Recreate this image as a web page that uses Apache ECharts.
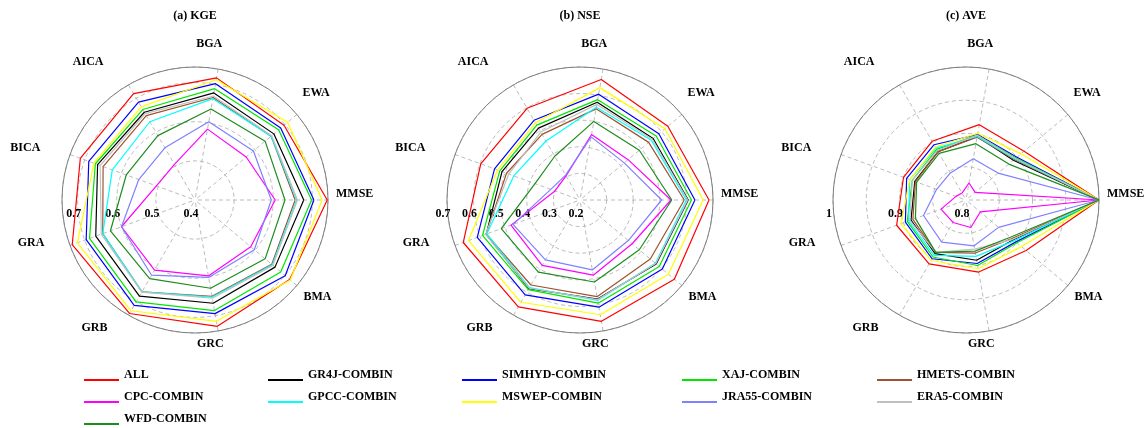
<!DOCTYPE html>
<html>
<head>
<meta charset="utf-8">
<script src="https://cdn.jsdelivr.net/npm/echarts@6/dist/echarts.min.js"></script>
<style>
  html, body { margin: 0; padding: 0; background: #fff; }
  #chart { width: 1144px; height: 428px; }
</style>
</head>
<body>
<div id="chart"></div>
<script>
// Spoke order, counter-clockwise from the right-hand (0°) spoke
const indicators = ['MMSE', 'EWA', 'BGA', 'AICA', 'BICA', 'GRA', 'GRB', 'GRC', 'BMA'];

const seriesNames = ['ALL', 'GR4J-COMBIN', 'SIMHYD-COMBIN', 'XAJ-COMBIN', 'HMETS-COMBIN',
  'CPC-COMBIN', 'GPCC-COMBIN', 'MSWEP-COMBIN', 'JRA55-COMBIN', 'ERA5-COMBIN', 'WFD-COMBIN'];
const seriesColors = ['#ff0000', '#000000', '#0000ff', '#00e600', '#a0522d',
  '#ff00ff', '#00ffff', '#ffff00', '#8080ff', '#c0c0c0', '#1e8c1e'];

const panelTitles = ['(a) KGE', '(b) NSE', '(c) AVE'];

// Radial tick labels per panel
const kgeTicks = ['0.4', '0.5', '0.6', '0.7'];
const nseTicks = ['0.2', '0.3', '0.4', '0.5', '0.6', '0.7'];
const aveTicks = ['0.8', '0.9', '1'];

// Values per series (rows in seriesNames order), columns in indicators order
const kgeValues = [
  [0.738, 0.697, 0.717, 0.714, 0.712, 0.734, 0.735, 0.728, 0.716],
  [0.678, 0.663, 0.678, 0.659, 0.665, 0.670, 0.684, 0.668, 0.667],
  [0.704, 0.686, 0.702, 0.689, 0.689, 0.696, 0.711, 0.695, 0.701],
  [0.698, 0.679, 0.689, 0.667, 0.671, 0.687, 0.701, 0.687, 0.686],
  [0.656, 0.654, 0.666, 0.649, 0.650, 0.651, 0.671, 0.650, 0.656],
  [0.605, 0.571, 0.584, 0.505, 0.505, 0.600, 0.607, 0.597, 0.586],
  [0.660, 0.654, 0.663, 0.631, 0.625, 0.651, 0.671, 0.652, 0.658],
  [0.725, 0.709, 0.712, 0.675, 0.675, 0.720, 0.727, 0.715, 0.718],
  [0.595, 0.595, 0.603, 0.554, 0.553, 0.600, 0.622, 0.601, 0.598],
  [0.662, 0.656, 0.670, 0.655, 0.658, 0.655, 0.672, 0.655, 0.660],
  [0.630, 0.634, 0.636, 0.590, 0.587, 0.630, 0.632, 0.629, 0.634]
];
const nseValues = [
  [0.685, 0.631, 0.660, 0.598, 0.597, 0.667, 0.664, 0.663, 0.663],
  [0.607, 0.559, 0.573, 0.512, 0.512, 0.575, 0.585, 0.578, 0.574],
  [0.632, 0.587, 0.604, 0.546, 0.542, 0.611, 0.612, 0.609, 0.604],
  [0.619, 0.574, 0.583, 0.525, 0.521, 0.590, 0.589, 0.594, 0.589],
  [0.592, 0.537, 0.548, 0.485, 0.494, 0.575, 0.569, 0.569, 0.545],
  [0.542, 0.436, 0.450, 0.305, 0.300, 0.476, 0.484, 0.487, 0.456],
  [0.600, 0.550, 0.554, 0.456, 0.465, 0.573, 0.580, 0.583, 0.570],
  [0.663, 0.617, 0.629, 0.535, 0.530, 0.646, 0.644, 0.638, 0.634],
  [0.507, 0.417, 0.441, 0.308, 0.317, 0.468, 0.460, 0.467, 0.437],
  [0.605, 0.555, 0.565, 0.495, 0.485, 0.578, 0.583, 0.580, 0.572],
  [0.545, 0.491, 0.500, 0.390, 0.380, 0.515, 0.513, 0.513, 0.491]
];
const aveValues = [
  [1.000, 0.914, 0.915, 0.902, 0.900, 0.911, 0.911, 0.910, 0.918],
  [1.000, 0.893, 0.897, 0.884, 0.882, 0.888, 0.893, 0.892, 0.893],
  [1.000, 0.900, 0.900, 0.896, 0.895, 0.897, 0.902, 0.897, 0.898],
  [1.000, 0.898, 0.899, 0.888, 0.886, 0.894, 0.899, 0.900, 0.900],
  [1.000, 0.895, 0.896, 0.884, 0.881, 0.885, 0.891, 0.881, 0.890],
  [1.000, 0.818, 0.826, 0.812, 0.816, 0.840, 0.839, 0.842, 0.828],
  [1.000, 0.896, 0.897, 0.890, 0.890, 0.892, 0.896, 0.886, 0.895],
  [1.000, 0.908, 0.902, 0.892, 0.890, 0.904, 0.905, 0.905, 0.909],
  [1.000, 0.863, 0.863, 0.847, 0.847, 0.868, 0.873, 0.870, 0.864],
  [1.000, 0.897, 0.899, 0.886, 0.886, 0.890, 0.891, 0.875, 0.892],
  [1.000, 0.884, 0.886, 0.881, 0.879, 0.881, 0.891, 0.878, 0.887]
];

// Radial ranges per panel
const panelMin = [0.4, 0.2, 0.8];
const panelMax = [0.74, 0.7, 1.0];
const ringStep = [0.1, 0.1, 0.05];

// Legend columns (indices into seriesNames)
const legendColumns = [[0, 5, 10], [1, 6], [2, 7], [3, 8], [4, 9]];

// ---- layout ----
const FONT = 'Liberation Serif';
const centersX = [195, 580, 966];
const CY = 200;
const R = 133;
const legendLeft = [84, 268, 462, 682, 877];
const STEP = 360 / indicators.length;
// per-spoke name placement: padding [top, right, bottom, left] around each name
const namePadding = [
  [0, 0, 12, 36], [0, 0, 65, 27], [0, 8, 91, 0], [0, 39, 80, 0], [0, 56, 32, 0],
  [14, 52, 0, 0], [60, 35, 0, 0], [67, 6, 0, 0], [45, 0, 0, 28]
];

const panelValues = [kgeValues, nseValues, aveValues];
const panelTicks = [kgeTicks, nseTicks, aveTicks];

const gridDash = { type: [4, 3], color: '#a9a9a9', width: 0.8 };
const boldText = { fontFamily: FONT, fontWeight: 'bold', fontSize: 12, color: '#000' };

const nameRich = {};
indicators.forEach((n, i) => {
  nameRich['n' + i] = Object.assign({ lineHeight: 14, padding: namePadding[i] }, boldText);
});

const title = [], polar = [], angleAxis = [], radiusAxis = [], series = [];

panelTitles.forEach((t, p) => {
  const cx = centersX[p];
  title.push({ text: t, left: cx, top: 10, textAlign: 'center', padding: 0,
    textStyle: Object.assign({}, boldText) });

  // data polar: spokes, rings, outer circle, spoke names
  polar.push({ center: [cx, CY], radius: R });
  angleAxis.push({
    polarIndex: 2 * p, type: 'value', min: 0, max: 360, interval: STEP,
    startAngle: 0, clockwise: false,
    axisLine: { lineStyle: { color: '#808080', width: 1 } },
    axisTick: { show: false },
    splitLine: { show: true, lineStyle: gridDash },
    axisLabel: {
      margin: -28, ...boldText, rich: nameRich,
      formatter: v => {
        const i = Math.round(v / STEP);
        return v < 360 ? '{n' + i + '|' + indicators[i] + '}' : '';
      }
    }
  });
  radiusAxis.push({
    polarIndex: 2 * p, type: 'value', min: panelMin[p], max: panelMax[p], interval: ringStep[p],
    axisLine: { show: false }, axisTick: { show: false }, axisLabel: { show: false },
    splitLine: { show: true, lineStyle: gridDash }
  });

  // companion polar carrying the radial tick labels along the left-hand direction
  polar.push({ center: [cx - 4, CY], radius: R });
  angleAxis.push({ polarIndex: 2 * p + 1, type: 'value', min: 0, max: 360, startAngle: 180, show: false });
  const ticks = panelTicks[p];
  radiusAxis.push({
    polarIndex: 2 * p + 1, type: 'value', min: panelMin[p], max: panelMax[p], interval: 0.1,
    axisLine: { show: false }, axisTick: { show: false }, splitLine: { show: false },
    axisLabel: {
      margin: 8, ...boldText,
      formatter: v => {
        const hit = ticks.find(s => Math.abs(parseFloat(s) - v) < 1e-6);
        return hit === undefined ? '' : hit;
      }
    }
  });

  panelValues[p].forEach((row, s) => {
    const pts = row.map((v, k) => [v, k * STEP]);
    pts.push([row[0], 360]);
    series.push({
      type: 'line', name: seriesNames[s], coordinateSystem: 'polar', polarIndex: 2 * p,
      data: pts, symbol: 'none', color: seriesColors[s],
      lineStyle: { color: seriesColors[s], width: 1.2 },
      animation: false, silent: true, clip: false
    });
  });
});

const legend = legendColumns.map((col, c) => ({
  data: col.map(i => seriesNames[i]),
  orient: 'vertical', left: legendLeft[c], top: 369, height: 90, padding: 0,
  icon: 'rect', itemWidth: 35, itemHeight: 2, itemGap: 0,
  formatter: '{t|{name}}',
  textStyle: Object.assign({
    rich: { t: Object.assign({ lineHeight: 14, padding: [0, 0, 10, 0] }, boldText) }
  }, boldText)
}));

const chart = echarts.init(document.getElementById('chart'));
chart.setOption({
  animation: false,
  backgroundColor: '#ffffff',
  title, polar, angleAxis, radiusAxis, legend, series
});
</script>
</body>
</html>
